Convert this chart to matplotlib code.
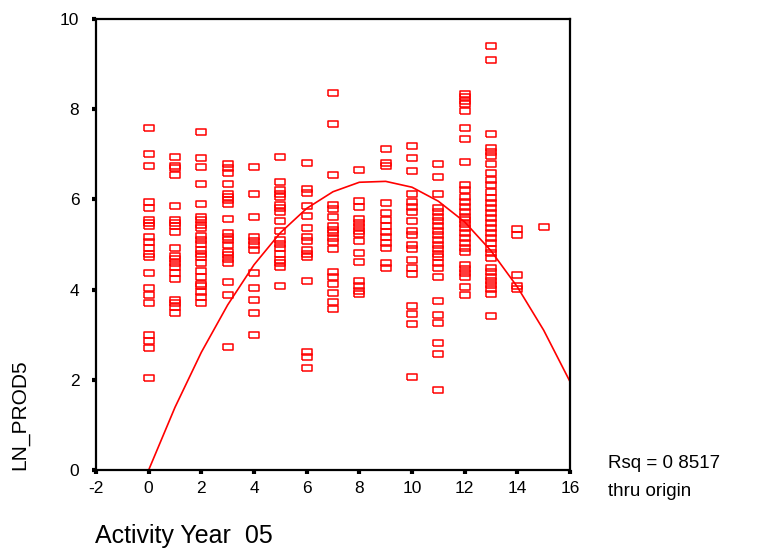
import matplotlib.pyplot as plt

plt.rcParams["font.family"] = ["Liberation Sans", "DejaVu Sans"]
plt.rcParams["axes.unicode_minus"] = False

# LN_PROD5 values, grouped by activity year
years = list(range(16))
ln_prod = [
    [7.58, 7.01, 6.75, 5.95, 5.82, 5.54, 5.47, 5.40, 5.17, 5.06, 4.92, 4.80, 4.72,
     4.36, 4.03, 3.88, 3.70, 2.99, 2.85, 2.70, 2.03],
    [6.95, 6.75, 6.69, 6.54, 5.85, 5.54, 5.47, 5.40, 5.28, 4.92, 4.74, 4.67, 4.60,
     4.51, 4.36, 4.23, 3.77, 3.70, 3.62, 3.49],
    [7.50, 6.91, 6.71, 6.34, 5.89, 5.62, 5.54, 5.43, 5.36, 5.19, 5.10, 5.01, 4.88,
     4.80, 4.72, 4.58, 4.42, 4.29, 4.12, 4.07, 3.95, 3.84, 3.70],
    [6.78, 6.69, 6.59, 6.34, 6.13, 6.06, 5.99, 5.90, 5.56, 5.25, 5.17, 5.10, 4.99,
     4.84, 4.77, 4.67, 4.60, 4.16, 3.89, 2.73],
    [6.71, 6.13, 5.62, 5.17, 5.08, 4.99, 4.88, 4.36, 4.03, 3.78, 3.49, 2.99],
    [6.95, 6.38, 6.21, 6.13, 6.06, 5.88, 5.80, 5.71, 5.52, 5.31, 5.10, 5.01, 4.92,
     4.80, 4.66, 4.58, 4.51, 4.09],
    [6.81, 6.22, 6.15, 5.85, 5.63, 5.36, 5.17, 5.08, 4.88, 4.80, 4.72, 4.19, 2.62,
     2.50, 2.27],
    [8.37, 7.67, 6.54, 5.88, 5.78, 5.62, 5.40, 5.32, 5.25, 5.14, 5.06, 4.89, 4.40,
     4.29, 4.12, 3.92, 3.73, 3.56],
    [6.65, 5.96, 5.84, 5.56, 5.47, 5.38, 5.31, 5.23, 5.08, 4.82, 4.62, 4.18, 4.07,
     3.98, 3.90],
    [7.11, 6.80, 6.73, 5.91, 5.69, 5.54, 5.41, 5.28, 5.16, 5.04, 4.92, 4.60, 4.47],
    [7.18, 6.91, 6.64, 6.12, 5.95, 5.84, 5.71, 5.51, 5.31, 5.21, 4.99, 4.89, 4.66,
     4.47, 4.35, 3.64, 3.46, 3.24, 2.07],
    [6.78, 6.50, 6.12, 5.80, 5.71, 5.62, 5.51, 5.41, 5.31, 5.21, 5.10, 4.99, 4.89,
     4.80, 4.72, 4.58, 4.47, 4.29, 3.75, 3.44, 3.27, 2.82, 2.57, 1.77],
    [8.34, 8.26, 8.19, 8.12, 7.95, 7.58, 7.35, 6.84, 6.32, 6.21, 6.06, 5.95, 5.84,
     5.73, 5.62, 5.54, 5.45, 5.36, 5.25, 5.14, 5.03, 4.92, 4.83, 4.55, 4.45, 4.36,
     4.27, 4.05, 3.88],
    [9.40, 9.09, 7.46, 7.15, 7.06, 6.96, 6.78, 6.58, 6.44, 6.32, 6.17, 6.02, 5.91,
     5.80, 5.69, 5.58, 5.47, 5.36, 5.25, 5.14, 5.03, 4.89, 4.82, 4.69, 4.47, 4.38,
     4.29, 4.20, 4.10, 4.01, 3.90, 3.42],
    [5.34, 5.21, 4.32, 4.08, 4.01],
    [5.38],
]

# fitted curve (quadratic thru origin), read at each year
fit_x = [0, 1, 2, 3, 4, 5, 6, 7, 8, 9, 10, 11, 12, 13, 14, 15, 16]
fit_y = [0, 1.39, 2.61, 3.66, 4.55, 5.26, 5.80, 6.17, 6.38, 6.40, 6.27, 5.96,
         5.50, 4.86, 4.06, 3.10, 1.96]

x_ticks = [-2, 0, 2, 4, 6, 8, 10, 12, 14, 16]
y_ticks = [0, 2, 4, 6, 8, 10]

fig = plt.figure(figsize=(7.79, 5.50), dpi=100)
ax = fig.add_axes([96 / 779, 1 - 470 / 550, 474 / 779, 451 / 550])

# flat rectangle marker like SPSS
box = [(-1, -0.62), (1, -0.62), (1, 0.62), (-1, 0.62), (-1, -0.62)]
for yr, vals in zip(years, ln_prod):
    ax.plot([yr] * len(vals), vals, linestyle="none", marker=box, markersize=7.5,
            markerfacecolor="none", markeredgecolor="#ff0000", markeredgewidth=1.1)

ax.plot(fit_x, fit_y, color="#ff0000", linewidth=1.2)

ax.set_xlim(-2, 16)
ax.set_ylim(0, 10)
ax.set_xticks(x_ticks)
ax.set_yticks(y_ticks)
ax.tick_params(direction="out", length=3, width=3, labelsize=12.5)
ax.tick_params(axis="x", pad=5)
ax.tick_params(axis="y", pad=9)
for s in ax.spines.values():
    s.set_linewidth(1.6)

fig.text(20 / 779, 1 - 415 / 550, "LN_PROD5", rotation=90, fontsize=15,
         ha="center", va="center")
fig.text(95 / 779, 1 - 543 / 550, "Activity Year  05", fontsize=18,
         ha="left", va="baseline")
fig.text(608 / 779, 1 - 463 / 550, "Rsq = 0 8517", fontsize=13.5,
         ha="left", va="center")
fig.text(608 / 779, 1 - 492 / 550, "thru origin", fontsize=13.5,
         ha="left", va="center")

fig.savefig("out.png", dpi=100)
